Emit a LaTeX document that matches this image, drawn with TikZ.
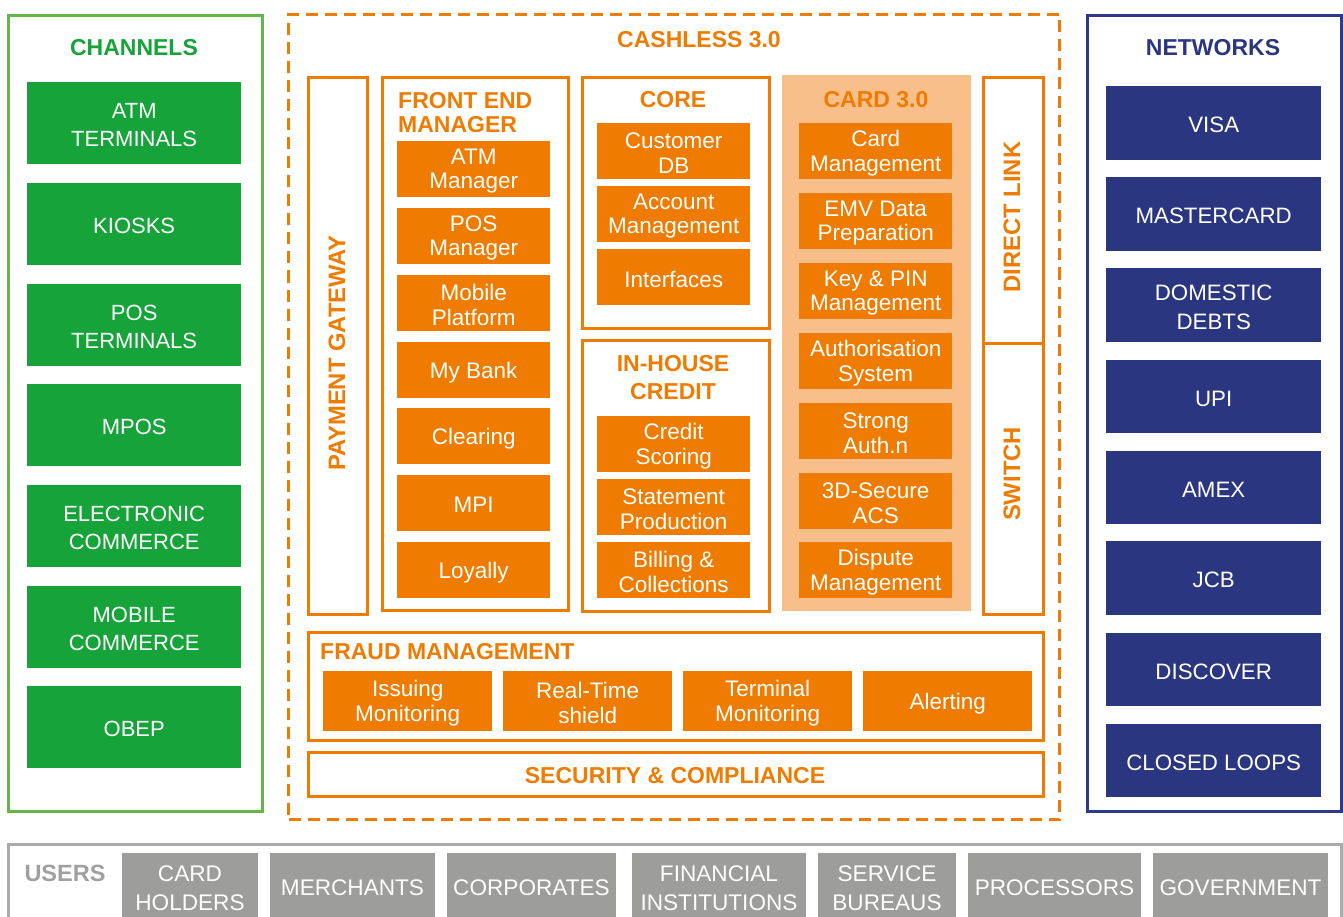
\documentclass[tikz,border=0pt]{standalone}
\usepackage{fontspec}
\setmainfont{Liberation Sans}
\definecolor{orangeC}{HTML}{EF7B00}
\definecolor{cardbg}{HTML}{F8BF8A}
\definecolor{greenbox}{HTML}{16A43A}
\definecolor{greenline}{HTML}{62B64A}
\definecolor{blueC}{HTML}{2B3680}
\definecolor{blueline}{HTML}{2E3A87}
\definecolor{grayC}{HTML}{9D9D9C}
\definecolor{grayline}{HTML}{ABABAB}
\definecolor{usersT}{HTML}{A0A0A0}
% box: fill style, text style, name, x1, y1, x2, y2, text
\newcommand\mybox[8]{\node[#1, anchor=north west, minimum width={(#6)-(#4)}, minimum height={(#7)-(#5)}] (#3) at (#4,#5) {};
  \node[#2] (#3t) at ([yshift=-2pt]#3.center) {#8};}
% frame: style, name, x1, y1, x2, y2
\newcommand\myframe[6]{\node[#1, anchor=north west, minimum width={(#5)-(#3)}, minimum height={(#6)-(#4)}] (#2) at (#3,#4) {};}
\begin{document}
\begin{tikzpicture}[x=1pt,y=-1pt,
  frame/.style={draw=orangeC, line width=3pt, inner sep=0pt},
  gframe/.style={draw=greenline, line width=3pt, inner sep=0pt},
  nframe/.style={draw=blueline, line width=3pt, inner sep=0pt},
  uframe/.style={draw=grayline, line width=3pt, inner sep=0pt},
  cframe/.style={draw=orangeC, line width=3pt, dash pattern=on 12pt off 7pt, inner sep=0pt},
  cardfill/.style={fill=cardbg, inner sep=0pt},
  gbox/.style={fill=greenbox, inner sep=0pt},
  obox/.style={fill=orangeC, inner sep=0pt},
  nbox/.style={fill=blueC, inner sep=0pt},
  ubox/.style={fill=grayC, inner sep=0pt},
  txtbase/.style={text=white, align=center, inner sep=0pt},
  gtxt/.style={txtbase, font=\fontsize{22}{28}\selectfont},
  otxt/.style={txtbase, font=\fontsize{22.5}{24.5}\selectfont},
  ntxt/.style={txtbase, font=\fontsize{22.3}{29}\selectfont},
  utxt/.style={txtbase, font=\fontsize{22.6}{29}\selectfont},
  title/.style={font=\bfseries\fontsize{23}{24}\selectfont, inner sep=0pt, text=orangeC},
  vtitle/.style={title, rotate=90, font=\bfseries\fontsize{23.8}{24}\selectfont}
]
\clip (0,0) rectangle (1343,917);
\fill[white] (0,0) rectangle (1343,917);

% ---------- CHANNELS ----------
\myframe{gframe}{chan}{7}{14}{261}{810}
\node[title, text=greenbox] (chant) at (134,48) {CHANNELS};
\mybox{gbox}{gtxt}{ch1}{27}{82}{241}{164}{ATM\\TERMINALS}
\mybox{gbox}{gtxt}{ch2}{27}{183}{241}{265}{KIOSKS}
\mybox{gbox}{gtxt}{ch3}{27}{284}{241}{366}{POS\\TERMINALS}
\mybox{gbox}{gtxt}{ch4}{27}{384}{241}{466}{MPOS}
\mybox{gbox}{gtxt}{ch5}{27}{485}{241}{567}{ELECTRONIC\\COMMERCE}
\mybox{gbox}{gtxt}{ch6}{27}{586}{241}{668}{MOBILE\\COMMERCE}
\mybox{gbox}{gtxt}{ch7}{27}{686}{241}{768}{OBEP}

% ---------- CASHLESS ----------
\myframe{cframe}{cash}{287}{13}{1058}{818}
\node[title] (casht) at (699,40) {CASHLESS 3.0};

% payment gateway
\myframe{frame}{pg}{307}{76}{366}{613}
\node[vtitle] (pgt) at (337,353) {PAYMENT GATEWAY};

% front end manager
\myframe{frame}{fem}{381}{76}{567}{609}
\node[title, anchor=north west, align=left] (femt) at (398,92) {FRONT END\\MANAGER};
\mybox{obox}{otxt}{f1}{397}{141}{550}{197}{ATM\\Manager}
\mybox{obox}{otxt}{f2}{397}{208}{550}{264}{POS\\Manager}
\mybox{obox}{otxt}{f3}{397}{275}{550}{331}{Mobile\\Platform}
\mybox{obox}{otxt}{f4}{397}{342}{550}{398}{My Bank}
\mybox{obox}{otxt}{f5}{397}{408}{550}{464}{Clearing}
\mybox{obox}{otxt}{f6}{397}{475}{550}{531}{MPI}
\mybox{obox}{otxt}{f7}{397}{542}{550}{598}{Loyally}

% core
\myframe{frame}{core}{581}{76}{768}{327}
\node[title] (coret) at (673,100) {CORE};
\mybox{obox}{otxt}{c1}{597}{123}{750}{179}{Customer\\DB}
\mybox{obox}{otxt}{c2}{597}{186}{750}{242}{Account\\Management}
\mybox{obox}{otxt}{c3}{597}{249}{750}{305}{Interfaces}

% in-house credit
\myframe{frame}{ihc}{581}{339}{768}{610}
\node[title, align=center, font=\bfseries\fontsize{23}{28}\selectfont] (ihct) at (673,378) {IN-HOUSE\\CREDIT};
\mybox{obox}{otxt}{i1}{597}{416}{750}{472}{Credit\\Scoring}
\mybox{obox}{otxt}{i2}{597}{479}{750}{535}{Statement\\Production}
\mybox{obox}{otxt}{i3}{597}{542}{750}{598}{Billing \&\\Collections}

% card 3.0
\myframe{cardfill}{card}{782}{75}{971}{611}
\node[title] (cardt) at (876,100) {CARD 3.0};
\mybox{obox}{otxt}{k1}{799}{123}{952}{179}{Card\\Management}
\mybox{obox}{otxt}{k2}{799}{193}{952}{249}{EMV Data\\Preparation}
\mybox{obox}{otxt}{k3}{799}{263}{952}{319}{Key \& PIN\\Management}
\mybox{obox}{otxt}{k4}{799}{333}{952}{389}{Authorisation\\System}
\mybox{obox}{otxt}{k5}{799}{403}{952}{459}{Strong\\Auth.n}
\mybox{obox}{otxt}{k6}{799}{473}{952}{529}{3D-Secure\\ACS}
\mybox{obox}{otxt}{k7}{799}{542}{952}{598}{Dispute\\Management}

% direct link / switch
\myframe{frame}{dl}{982}{76}{1042}{342}
\node[vtitle] (dlt) at (1012,217) {DIRECT LINK};
\myframe{frame}{sw}{982}{342}{1042}{613}
\node[vtitle] (swt) at (1012,474) {SWITCH};

% fraud management
\myframe{frame}{fraud}{307}{631}{1042}{739}
\node[title, anchor=west] (fraudt) at (320,652) {FRAUD MANAGEMENT};
\mybox{obox}{otxt}{r1}{323}{671}{492}{731}{Issuing\\Monitoring}
\mybox{obox}{otxt}{r2}{503}{671}{672}{731}{Real-Time\\shield}
\mybox{obox}{otxt}{r3}{683}{671}{852}{731}{Terminal\\Monitoring}
\mybox{obox}{otxt}{r4}{863}{671}{1032}{731}{Alerting}

% security
\myframe{frame}{sec}{307}{751}{1042}{795}
\node[title] (sect) at (675,776) {SECURITY \& COMPLIANCE};

% ---------- NETWORKS ----------
\myframe{nframe}{net}{1086}{14}{1340}{810}
\node[title, text=blueC] (nett) at (1213,48) {NETWORKS};
\mybox{nbox}{ntxt}{n1}{1106}{86}{1321}{160}{VISA}
\mybox{nbox}{ntxt}{n2}{1106}{177}{1321}{251}{MASTERCARD}
\mybox{nbox}{ntxt}{n3}{1106}{268}{1321}{342}{DOMESTIC\\DEBTS}
\mybox{nbox}{ntxt}{n4}{1106}{360}{1321}{433}{UPI}
\mybox{nbox}{ntxt}{n5}{1106}{451}{1321}{524}{AMEX}
\mybox{nbox}{ntxt}{n6}{1106}{541}{1321}{615}{JCB}
\mybox{nbox}{ntxt}{n7}{1106}{633}{1321}{706}{DISCOVER}
\mybox{nbox}{ntxt}{n8}{1106}{724}{1321}{797}{CLOSED LOOPS}

% ---------- USERS ----------
\myframe{uframe}{users}{7}{843}{1340}{960}
\node[title, text=usersT, font=\bfseries\fontsize{23.5}{24}\selectfont] (userst) at (65,873) {USERS};
\myframe{ubox}{u1}{122}{853}{258}{933}
\node[utxt] (u1t) at (190,888) {CARD\\HOLDERS};
\myframe{ubox}{u2}{270}{853}{435}{933}
\node[utxt] (u2t) at (352.5,888) {MERCHANTS};
\myframe{ubox}{u3}{447}{853}{616}{933}
\node[utxt] (u3t) at (531.5,888) {CORPORATES};
\myframe{ubox}{u4}{632}{853}{806}{933}
\node[utxt] (u4t) at (719,888) {FINANCIAL\\INSTITUTIONS};
\myframe{ubox}{u5}{818}{853}{956}{933}
\node[utxt] (u5t) at (887,888) {SERVICE\\BUREAUS};
\myframe{ubox}{u6}{968}{853}{1141}{933}
\node[utxt] (u6t) at (1054.5,888) {PROCESSORS};
\myframe{ubox}{u7}{1153}{853}{1328}{933}
\node[utxt] (u7t) at (1240.5,888) {GOVERNMENT};
\end{tikzpicture}
\end{document}
